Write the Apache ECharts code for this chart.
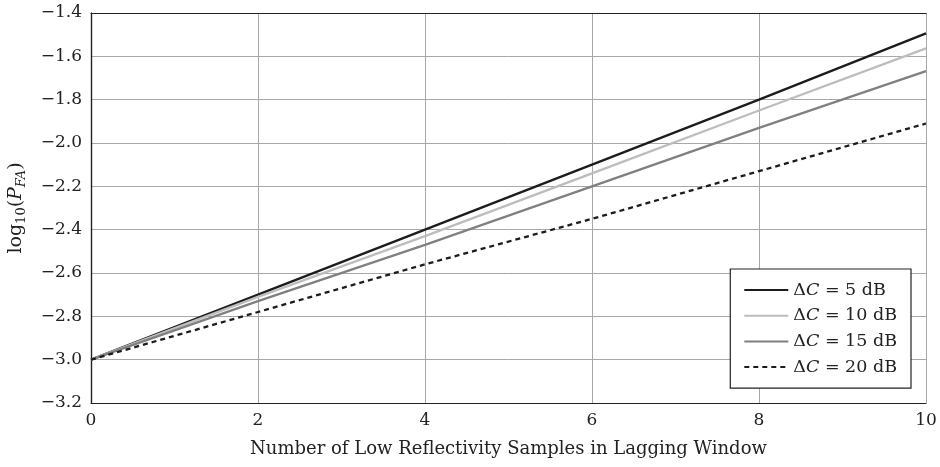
<!DOCTYPE html>
<html><head><meta charset="utf-8">
<script src="https://cdn.jsdelivr.net/npm/echarts@6/dist/echarts.min.js"></script>
<style>html,body{margin:0;padding:0;background:#fff}#c{width:940px;height:467px}</style>
</head><body><div id="c"></div>
<script>
const xValues = [0, 2, 4, 6, 8, 10];
const seriesNames = ['5 dB', '10 dB', '15 dB', '20 dB'];
const dc5 = [-3.0, -2.70, -2.40, -2.10, -1.80, -1.494];
const dc10 = [-3.0, -2.71, -2.43, -2.14, -1.85, -1.563];
const dc15 = [-3.0, -2.73, -2.47, -2.20, -1.93, -1.668];
const dc20 = [-3.0, -2.78, -2.56, -2.35, -2.13, -1.91];
const yTicks = { min: -3.2, max: -1.4, step: 0.2 };
const xTicks = { min: 0, max: 10, step: 2 };

const F = '"DejaVu Serif", serif';
const pair = arr => xValues.map((x, i) => [x, arr[i]]);
const mk = (name, data, color, type) => ({
  name: name, type: 'line', data: pair(data), showSymbol: false, symbol: 'none',
  lineStyle: { color: color, width: 2.3, type: type }, itemStyle: { color: color },
  animation: false, z: 3
});
const frameAxis = (pos) => ({
  type: 'value', position: pos, min: 0, max: 1,
  axisLine: { show: true, lineStyle: { color: '#222', width: 1.2 } },
  axisTick: { show: false }, axisLabel: { show: false }, splitLine: { show: false }
});
const chart = echarts.init(document.getElementById('c'), null, { renderer: 'canvas' });
chart.setOption({
  animation: false,
  backgroundColor: '#fff',
  grid: { left: 91, right: 14, top: 13, bottom: 64, show: false,
          outerBoundsMode: 'none', containLabel: false },
  xAxis: [{
    type: 'value', min: xTicks.min, max: xTicks.max, interval: xTicks.step,
    name: 'Number of Low Reflectivity Samples in Lagging Window',
    nameLocation: 'middle', nameGap: 37,
    nameTextStyle: { fontFamily: F, fontSize: 18, color: '#222' },
    axisLine: { show: true, lineStyle: { color: '#222', width: 1.2 } },
    axisTick: { show: false },
    axisLabel: { fontFamily: F, fontSize: 17, color: '#222', margin: 9 },
    splitLine: { show: true, lineStyle: { color: '#a8a8a8', width: 1 } }
  }, frameAxis('top')],
  yAxis: [{
    type: 'value', min: yTicks.min, max: yTicks.max, interval: yTicks.step,
    name: '{n|log}{s|10}{n|(}{i|P}{t|FA}{n|)}',
    nameLocation: 'middle', nameGap: 63, nameRotate: 90,
    nameTextStyle: {
      fontFamily: F, fontSize: 19, color: '#222',
      rich: {
        n: { fontFamily: F, fontSize: 19, color: '#222' },
        i: { fontFamily: F, fontSize: 19, fontStyle: 'italic', color: '#222' },
        s: { fontFamily: F, fontSize: 13, color: '#222', padding: [10, 0, 0, 0] },
        t: { fontFamily: F, fontSize: 13, fontStyle: 'italic', color: '#222', padding: [10, 0, 0, 0] }
      }
    },
    axisLine: { show: true, lineStyle: { color: '#222', width: 1.2 } },
    axisTick: { show: false },
    axisLabel: { fontFamily: F, fontSize: 17, color: '#222', margin: 9,
      formatter: v => v.toFixed(1).replace('-', '\u2212') },
    splitLine: { show: true, lineStyle: { color: '#a8a8a8', width: 1 } }
  }, frameAxis('right')],
  legend: {
    orient: 'vertical', right: 29, top: 269,
    backgroundColor: '#fff', borderColor: '#222', borderWidth: 1.2, borderRadius: 0,
    padding: [11, 14, 11, 13], itemWidth: 44, itemHeight: 14, itemGap: 5.7,
    itemStyle: { opacity: 0 },
    data: seriesNames,
    formatter: n => '{a|\u0394}{i|C}{a| = ' + n + '}',
    textStyle: {
      fontFamily: F, fontSize: 17.5, color: '#222', lineHeight: 20,
      rich: {
        a: { fontFamily: F, fontSize: 17.5, color: '#222', lineHeight: 20 },
        i: { fontFamily: F, fontSize: 17.5, fontStyle: 'italic', color: '#222', lineHeight: 20 }
      }
    }
  },
  series: [
    mk(seriesNames[0], dc5, '#1c1c1c', 'solid'),
    mk(seriesNames[1], dc10, '#bdbdbd', 'solid'),
    mk(seriesNames[2], dc15, '#808080', 'solid'),
    mk(seriesNames[3], dc20, '#1c1c1c', [5, 4])
  ]
});
</script></body></html>
